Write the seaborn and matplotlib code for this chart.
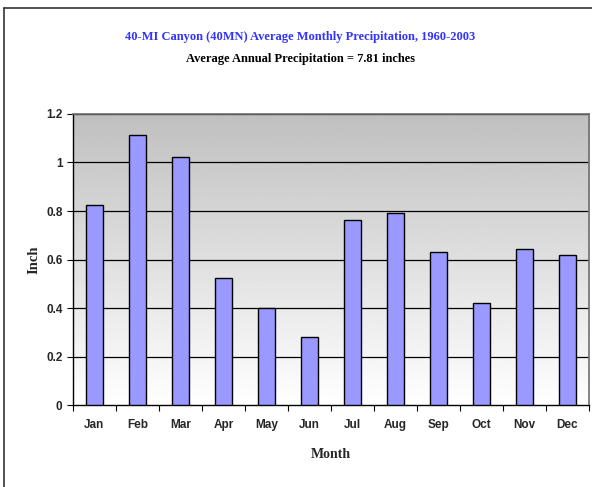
import numpy as np
import pandas as pd
import seaborn as sns
import matplotlib.pyplot as plt
from matplotlib.lines import Line2D

# Monthly precipitation
months = ['Jan', 'Feb', 'Mar', 'Apr', 'May', 'Jun', 'Jul', 'Aug', 'Sep', 'Oct', 'Nov', 'Dec']
precip = [0.825, 1.113, 1.022, 0.524, 0.40, 0.28, 0.762, 0.79, 0.63, 0.42, 0.643, 0.62]
y_ticks = [0, 0.2, 0.4, 0.6, 0.8, 1, 1.2]
y_tick_labels = ['0', '0.2', '0.4', '0.6', '0.8', '1', '1.2']

df = pd.DataFrame({'Month': months, 'Inch': precip})

sns.set_style('white')
fig = plt.figure(figsize=(5.92, 4.87), dpi=100)
ax = fig.add_axes([0.123, 0.168, 0.872, 0.598])

# gray (top) to white (bottom) gradient behind the bars
grad = np.linspace(0.75, 1.0, 256).reshape(-1, 1)
ax.imshow(grad, cmap='gray', vmin=0, vmax=1, aspect='auto', origin='upper',
          extent=[-0.5, 11.5, 0, 1.2], zorder=0)

sns.barplot(data=df, x='Month', y='Inch', color='#9999FF', saturation=1,
            width=0.4, edgecolor='black', linewidth=1, ax=ax, zorder=3)

ax.set_xlim(-0.5, 11.5)
ax.set_ylim(0, 1.2)
ax.set_yticks(y_ticks)
ax.set_yticklabels(y_tick_labels)
for t in y_ticks[1:]:
    ax.axhline(t, color='black', lw=0.9, zorder=2)

# x tick marks between categories
ax.set_xticks(np.arange(12))
ax.set_xticks(np.arange(-0.5, 12, 1), minor=True)
ax.tick_params(axis='x', which='major', length=0, pad=10)
ax.tick_params(axis='x', which='minor', length=4, width=0.8, direction='out', color='black', bottom=True)
ax.tick_params(axis='y', length=4, width=0.8, direction='out', color='black', left=True)

for lab in ax.get_xticklabels() + ax.get_yticklabels():
    lab.set_fontfamily('Liberation Sans')
    lab.set_fontweight('bold')
    lab.set_fontsize(8.5)

for side in ['left', 'bottom']:
    ax.spines[side].set_color('black')
    ax.spines[side].set_linewidth(1)
for side in ['top', 'right']:
    ax.spines[side].set_color('#707070')
    ax.spines[side].set_linewidth(1.2)

ax.set_xlabel('Month', fontfamily='Liberation Serif', fontweight='bold', fontsize=10, labelpad=12)
ax.set_ylabel('Inch', fontfamily='Liberation Serif', fontweight='bold', fontsize=10.5, labelpad=4)

fig.text(0.507, 0.924, '40-MI Canyon (40MN) Average Monthly Precipitation, 1960-2003',
         ha='center', va='center', color='#3333FF', fontfamily='Liberation Serif',
         fontweight='bold', fontsize=9)
fig.text(0.507, 0.879, 'Average Annual Precipitation = 7.81 inches',
         ha='center', va='center', color='black', fontfamily='Liberation Serif',
         fontweight='bold', fontsize=9)

# outer chart border (left and top)
fig.add_artist(Line2D([0.007, 0.007], [0, 0.984], transform=fig.transFigure, color='#333333', lw=1.2))
fig.add_artist(Line2D([0.007, 1.0], [0.984, 0.984], transform=fig.transFigure, color='#333333', lw=1.2))

fig.savefig('out.png', dpi=100)
